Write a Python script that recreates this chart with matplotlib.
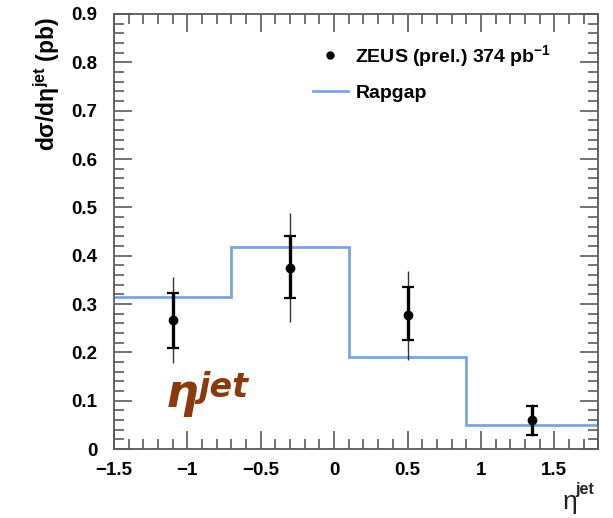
import matplotlib.pyplot as plt
from matplotlib.lines import Line2D
from matplotlib.ticker import MultipleLocator

plt.rcParams['font.family'] = ['Liberation Sans', 'DejaVu Sans']
plt.rcParams['mathtext.fontset'] = 'custom'
plt.rcParams['mathtext.rm'] = 'Liberation Sans:bold'
plt.rcParams['mathtext.it'] = 'Liberation Sans:bold:italic'
plt.rcParams['mathtext.bf'] = 'Liberation Sans:bold'

# ZEUS data points
eta_data = [-1.1, -0.3, 0.5, 1.35]
xsec = [0.268, 0.374, 0.278, 0.060]
stat_up = [0.055, 0.067, 0.057, 0.030]
stat_dn = [0.058, 0.062, 0.052, 0.031]
tot_up = [0.089, 0.115, 0.091, 0.033]
tot_dn = [0.089, 0.112, 0.094, 0.033]

# Rapgap prediction (histogram)
bin_edges = [-1.5, -0.7, 0.1, 0.9, 1.8]
rapgap = [0.315, 0.419, 0.191, 0.050]

x_ticks = [-1.5, -1, -0.5, 0, 0.5, 1, 1.5]
x_ticklabels = ['\u22121.5', '\u22121', '\u22120.5', '0', '0.5', '1', '1.5']
y_ticks = [0, 0.1, 0.2, 0.3, 0.4, 0.5, 0.6, 0.7, 0.8, 0.9]
y_ticklabels = ['0', '0.1', '0.2', '0.3', '0.4', '0.5', '0.6', '0.7', '0.8', '0.9']

line_col = '#5a5a5a'
blue = '#7ea3dc'
brown = '#8b3a0e'

fig = plt.figure(figsize=(6.13, 5.18), dpi=100)
ax = fig.add_axes([0.186, 0.133, 0.790, 0.840])

ax.stairs(rapgap, bin_edges, color=blue, lw=2.0, baseline=None, zorder=2)

ax.errorbar(eta_data, xsec, yerr=[tot_dn, tot_up], fmt='none',
            ecolor='#333333', elinewidth=1.0, capsize=0, zorder=3)
ax.errorbar(eta_data, xsec, yerr=[stat_dn, stat_up], fmt='o', color='black',
            ms=6, elinewidth=2.4, capsize=4, capthick=1.6, zorder=4)

ax.set_xlim(-1.5, 1.8)
ax.set_ylim(0, 0.9)
ax.xaxis.set_minor_locator(MultipleLocator(0.1))
ax.yaxis.set_minor_locator(MultipleLocator(0.02))
ax.set_xticks(x_ticks)
ax.set_xticklabels(x_ticklabels)
ax.set_yticks(y_ticks)
ax.set_yticklabels(y_ticklabels)

ax.tick_params(which='both', direction='in', top=True, right=True,
               color=line_col, width=1.2, labelsize=13.5)
ax.tick_params(which='major', length=13)
ax.tick_params(which='minor', length=7)
ax.tick_params(axis='x', which='major', pad=9)
ax.tick_params(axis='y', which='major', pad=12)
for lbl in ax.get_xticklabels() + ax.get_yticklabels():
    lbl.set_fontweight('bold')
for sp in ax.spines.values():
    sp.set_color(line_col)
    sp.set_linewidth(1.3)

ax.set_ylabel('d\u03c3/d\u03b7$^{\\mathrm{jet}}$ (pb)', fontsize=16.5,
              fontweight='bold')
ax.yaxis.set_label_coords(-0.108, 0.84)

# x axis title in the lower right corner
fig.text(0.917, 0.008, '\u03b7', fontsize=19, ha='left', va='bottom',
         color='#222222')
fig.text(0.939, 0.040, 'jet', fontsize=11.5, fontweight='bold', ha='left',
         va='bottom', color='#222222')

# brown eta^jet annotation
ax.text(-1.15, 0.088, '\u03b7', fontsize=33, fontweight='bold', style='italic',
        color=brown, family='DejaVu Sans')
ax.text(-0.925, 0.108, 'jet', fontsize=24, fontweight='bold', style='italic',
        color=brown, family='DejaVu Sans')

handles = [
    Line2D([], [], marker='o', ls='none', color='black', ms=5),
    Line2D([], [], color=blue, lw=2.0),
]
labels = ['ZEUS (prel.) 374 pb$^{\\mathrm{-1}}$', 'Rapgap']
leg = ax.legend(handles, labels, loc='upper left', bbox_to_anchor=(0.374, 0.974),
                frameon=False, handlelength=1.8, handletextpad=0.4,
                labelspacing=0.8, prop={'weight': 'bold', 'size': 14})

fig.savefig('out.png', dpi=100)
